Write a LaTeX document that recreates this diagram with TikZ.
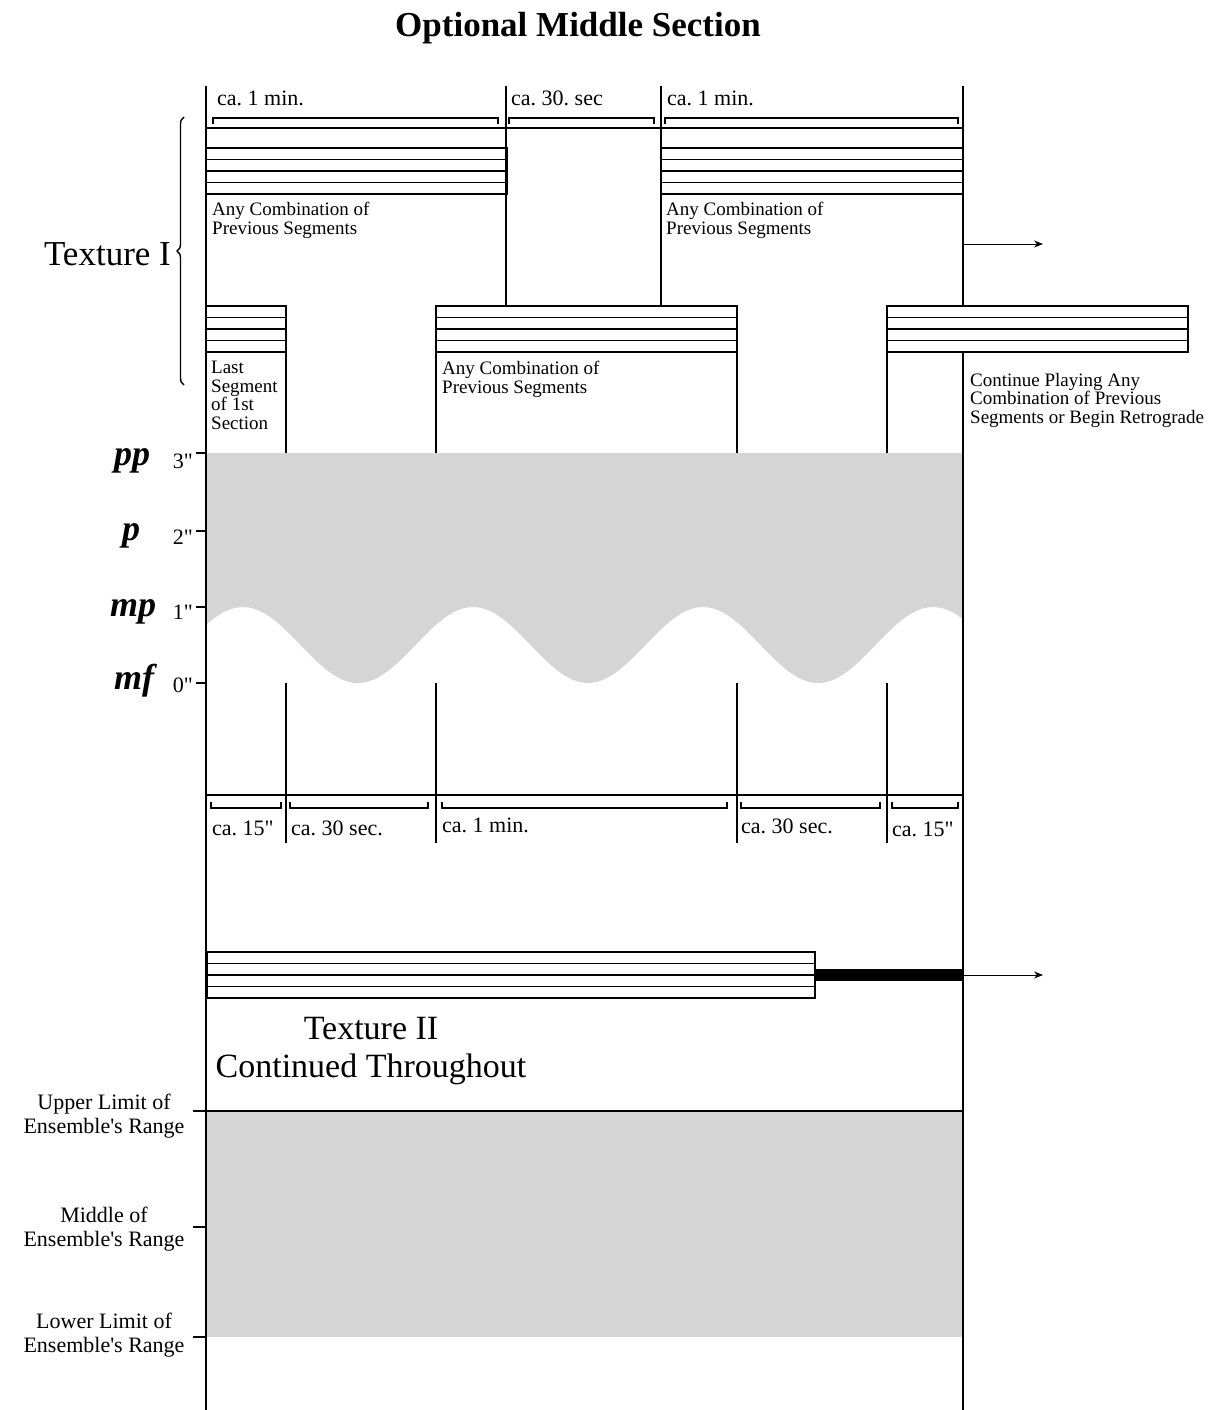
\documentclass[tikz,border=0pt]{standalone}
\usepackage{fontspec}
\setmainfont{Liberation Serif}
\usetikzlibrary{arrows.meta,decorations.pathreplacing}
\definecolor{shadegray}{RGB}{213,213,213}
\frenchspacing

\begin{document}
\begin{tikzpicture}[x=1pt, y=-1pt,
  rule/.style={line width=1.8pt},
  thinrule/.style={line width=1.4pt},
  staffbox/.style={line width=1.8pt},
  notetext/.style={font=\fontsize{19}{18.5}\selectfont, align=left,
    inner sep=0pt, anchor=north west},
  durtext/.style={font=\fontsize{22}{24}\selectfont, inner sep=0pt,
    anchor=base west},
  dyntext/.style={font=\fontsize{36}{36}\selectfont\bfseries\itshape,
    inner sep=0pt},
  secstext/.style={font=\fontsize{22}{22}\selectfont, inner sep=0pt,
    anchor=east},
  rangetext/.style={font=\fontsize{22}{24}\selectfont, align=center,
    inner sep=0pt},
  bigtext/.style={font=\fontsize{35}{31}\selectfont, inner sep=0pt},
  onward/.style={-{Stealth[length=9pt,width=7pt]}, line width=0.9pt},
]
\useasboundingbox (0,0) rectangle (1212,1410);

% Grey areas: dynamics wave and ensemble range
\fill[shadegray] (207,453) -- (962,453)
  -- plot[domain=962:207, samples=160] (\x,{645-38*cos((\x-243)/230*360)})
  -- cycle;
\fill[shadegray] (207,1111) rectangle (962,1337);

% Title and texture labels
\node[bigtext, anchor=base] (title) at (578,37) {\bfseries Optional Middle Section};
\node[bigtext, anchor=base east] (tex1) at (171,265) {Texture I};
\draw[line width=1.4pt, decorate, decoration={brace, amplitude=7pt}]
  (184,385) -- (184,117);
\node[bigtext, font=\fontsize{34}{31}\selectfont, anchor=base]
  (tex2) at (371,1039) {Texture II};
\node[bigtext, font=\fontsize{34}{31}\selectfont, anchor=base]
  (tex2note) at (371,1077) {Continued Throughout};

% Time lines
\draw[rule] (206,86) -- (206,1410);
\draw[rule] (963,86) -- (963,306);
\draw[rule] (963,352) -- (963,1410);
\draw[rule] (506,86) -- (506,306);
\draw[rule] (661,86) -- (661,306);
\draw[rule] (206,128) -- (963,128);
\foreach \xv in {286,436,737,887} {
  \draw[rule] (\xv,352) -- (\xv,453);
  \draw[rule] (\xv,683) -- (\xv,843);
}
\draw[rule] (206,795) -- (963,795);

% Staves
\foreach \sa/\sb/\st in {206/507/148, 661/963/148, 206/286/306,
    436/737/306, 887/1188/306, 207/815/952} {
  \draw[staffbox] (\sa,\st) rectangle (\sb,{\st+46});
  \foreach \k in {1,2,3}
    \draw[staffbox] (\sa,{\st+\k*11.5}) -- (\sb,{\st+\k*11.5});
}
\fill (815,969) rectangle (963,981);

% Duration brackets
\foreach \ba/\bb in {213/498, 509/654, 665/958}
  \draw[thinrule] (\ba,124) -- (\ba,118) -- (\bb,118) -- (\bb,124);
\foreach \ba/\bb in {211/281, 290/428, 442/727, 741/880, 892/958}
  \draw[thinrule] (\ba,802) -- (\ba,808) -- (\bb,808) -- (\bb,802);

\node[durtext] (top1) at (217,106) {ca. 1 min.};
\node[durtext] (top2) at (511,106) {ca. 30. sec};
\node[durtext] (top3) at (667,106) {ca. 1 min.};
\node[durtext] (low1) at (212,835) {ca. 15\textquotedbl};
\node[durtext] (low2) at (291,835) {ca. 30 sec.};
\node[durtext] (low3) at (442,832) {ca. 1 min.};
\node[durtext] (low4) at (741,833) {ca. 30 sec.};
\node[durtext] (low5) at (892,836) {ca. 15\textquotedbl};

% Segment notes
\node[notetext] (note1) at (212,202) {Any Combination of\\Previous Segments};
\node[notetext] (note2) at (666,202) {Any Combination of\\Previous Segments};
\node[notetext] (note3) at (211,361) {Last\\Segment\\of 1st\\Section};
\node[notetext] (note4) at (442,361) {Any Combination of\\Previous Segments};
\node[notetext] (note5) at (970,373)
  {Continue Playing Any\\Combination of Previous\\Segments or Begin Retrograde};

% Continuation arrows
\coordinate (tex1out) at (963,244);
\coordinate (tex1end) at (1043,244);
\draw[onward] (tex1out) -- (tex1end);
\coordinate (tex2out) at (963,975);
\coordinate (tex2end) at (1043,975);
\draw[onward] (tex2out) -- (tex2end);

% Dynamics scale
\foreach \ty in {453,531,607,683}
  \draw[rule] (196,\ty) -- (206,\ty);
\node[dyntext] (dynpp) at (132,461) {pp};
\node[dyntext] (dynp) at (131,536) {p};
\node[dyntext] (dynmp) at (133,612) {mp};
\node[dyntext] (dynmf) at (134,681) {mf};
\node[secstext] (sec3) at (193,461) {3\textquotedbl};
\node[secstext] (sec2) at (193,537) {2\textquotedbl};
\node[secstext] (sec1) at (193,612) {1\textquotedbl};
\node[secstext] (sec0) at (193,685) {0\textquotedbl};

% Ensemble range scale
\draw[rule] (193,1111) -- (963,1111);
\draw[rule] (193,1227) -- (206,1227);
\draw[rule] (193,1337) -- (206,1337);
\node[rangetext] (upper) at (104,1116) {Upper Limit of\\Ensemble\textquotesingle s Range};
\node[rangetext] (middle) at (104,1229) {Middle of\\Ensemble\textquotesingle s Range};
\node[rangetext] (lower) at (104,1335) {Lower Limit of\\Ensemble\textquotesingle s Range};

\end{tikzpicture}
\end{document}
